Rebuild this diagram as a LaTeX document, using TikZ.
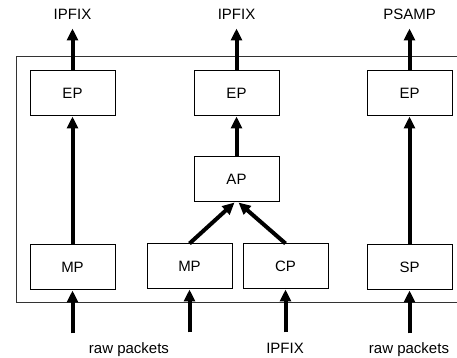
\documentclass[tikz,border=0pt]{standalone}
\usepackage{fontspec}
\setmainfont{Liberation Sans}
\usetikzlibrary{positioning,arrows.meta}

\begin{document}
\begin{tikzpicture}[x=1pt, y=1pt]
\tikzstyle{blk}=[draw, rectangle, line width=1pt, minimum width=85pt, minimum height=45pt, inner sep=0pt, font=\fontsize{15}{18}\selectfont]
\tikzstyle{lbl}=[inner sep=0pt, font=\fontsize{15}{18}\selectfont]
\tikzstyle{flow}=[line width=4pt, -{Triangle[length=12pt, width=11pt]}]
\useasboundingbox (0,0) rectangle (457,358);

% frame, open on the right
\draw[line width=1pt, black!80] (458,301) -- (16,301) -- (16,55) -- (458,55);

\node[blk] (EP1) at (72.5,264.5) {EP};
\node[blk, right=78pt of EP1] (EP2) {EP};
\node[blk, right=87pt of EP2] (EP3) {EP};
\node[blk, below=40pt of EP2] (AP) {AP};
\node[blk, below=128pt of EP1] (MP1) {MP};
\node[blk] (MP2) at (189.5,91.5) {MP};
\node[blk, right=10pt of MP2] (CP) {CP};
\node[blk, below=128pt of EP3] (SP) {SP};

\coordinate[above=42pt of EP1.north] (out1);
\coordinate[above=42pt of EP2.north] (out2);
\coordinate[above=42pt of EP3.north] (out3);
\coordinate[below=43pt of MP1.south] (in1);
\coordinate[below=43pt of MP2.south] (in2);
\coordinate[below=43pt of CP.south] (in3);
\coordinate[below=43pt of SP.south] (in4);

\node[lbl, above=8.3pt of out1] (ipfix1) {IPFIX};
\node[lbl, above=8.3pt of out2] (ipfix2) {IPFIX};
\node[lbl, above=8.3pt of out3] (psamp) {PSAMP};
\node[lbl, anchor=base] (raw1) at (129,4.5) {raw packets};
\node[lbl, anchor=base] (ipfix3) at (285,4.5) {IPFIX};
\node[lbl, anchor=base] (raw2) at (409,4.5) {raw packets};

\draw[flow] (EP1) -- (out1);
\draw[flow] (EP2) -- (out2);
\draw[flow] (EP3) -- (out3);
\draw[flow] (MP1) -- (EP1);
\draw[flow] (AP) -- (EP2);
\draw[flow] (SP) -- (EP3);
\draw[flow] (MP2.north) -- ([xshift=-2pt]AP.south);
\draw[flow] (CP.north) -- ([xshift=2pt]AP.south);
\draw[flow] (in1) -- (MP1);
\draw[flow] (in2) -- (MP2);
\draw[flow] (in3) -- (CP);
\draw[flow] (in4) -- (SP);
\end{tikzpicture}
\end{document}
